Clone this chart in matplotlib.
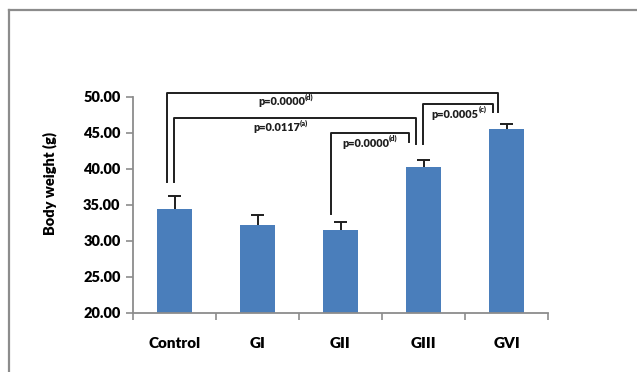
import numpy as np
import matplotlib
matplotlib.use("Agg")
import matplotlib.pyplot as plt
from matplotlib.lines import Line2D

OUT = "out.png"
BLUE = "#4a7ebb"
GREY = "#8c8c8c"
INK = "#1e1e1e"

# peso corporal medio (g) y error estándar por grupo
groups = ["Control", "GI", "GII", "GIII", "GVI"]
weights = [34.4, 32.2, 31.5, 40.3, 45.6]
errors = [1.9, 1.4, 1.1, 1.0, 0.6]

# comparaciones: (x izq, x der, altura del tramo, pie izq, pie der)
brackets = [
    (-0.085, 3.90, 50.6, 38.2, 47.9),
    (-0.007, 2.91, 47.1, 38.2, 43.5),
    (1.89, 2.82, 45.0, 33.7, 43.7),
    (2.99, 3.84, 49.0, 43.5, 47.9),
]
p_texts = ["p=0.0000", "p=0.0117", "p=0.0000", "p=0.0005"]
p_sups = ["(d)", "(a)", "(d)", "(c)"]
p_pos = [(1.01, 49.35), (0.95, 45.7), (2.02, 43.57), (3.10, 47.6)]

plt.rcParams["font.family"] = ["Lato", "DejaVu Sans"]
plt.rcParams["font.weight"] = "bold"

fig = plt.figure(figsize=(6.37, 3.72), dpi=100)
ax = fig.add_axes([133 / 637, 1 - 313 / 372, 415 / 637, 216 / 372])

x = np.arange(len(groups))
ax.bar(x, weights, width=0.41, color=BLUE, zorder=2)
# solo la mitad superior de la barra de error
tops = np.array(weights) + np.array(errors)
ax.vlines(x, weights, tops, color=INK, lw=1.4, zorder=3)
ax.hlines(tops, x - 0.075, x + 0.075, color=INK, lw=1.4, zorder=3)

for (x0, x1, top, f0, f1) in brackets:
    ax.plot([x0, x0, x1, x1], [f0, top, top, f1], color=INK, lw=1.4,
            clip_on=False, zorder=4)

for txt, sup, (tx, ty) in zip(p_texts, p_sups, p_pos):
    t = ax.text(tx, ty, txt, fontsize=7.8, fontweight="heavy", ha="left",
                va="center", color=INK)
    ax.annotate(sup, xy=(0.99, 0.6), xycoords=t, fontsize=5.5,
                fontweight="heavy", ha="left", va="bottom", color=INK)

ax.set_ylim(20, 50)
ax.set_xlim(-0.5, len(groups) - 0.5)
yt = np.arange(20, 50.1, 5)
ax.set_yticks(yt)
ax.set_yticklabels([f"{v:.2f}" for v in yt], fontsize=10.5, fontweight="heavy")
ax.set_xticks(x)
ax.set_xticklabels(groups, fontsize=11, fontweight="heavy")
ax.set_xticks(np.arange(-0.5, len(groups)), minor=True)
ax.tick_params(axis="x", which="major", length=0, pad=17)
ax.tick_params(axis="x", which="minor", length=5, color=GREY, width=1.2)
ax.tick_params(axis="y", length=5, color=GREY, width=1.2, pad=4)

for side in ["top", "right"]:
    ax.spines[side].set_visible(False)
for side in ["left", "bottom"]:
    ax.spines[side].set_color(GREY)
    ax.spines[side].set_linewidth(1.3)

ax.set_ylabel("Body weight (g)", fontsize=10.5, fontweight="heavy")
ax.yaxis.set_label_coords(-0.183, 0.60)

# marco exterior del gráfico
fig.add_artist(Line2D([8.5 / 637, 1.0], [1 - 9.5 / 372] * 2,
                      transform=fig.transFigure, color=GREY, lw=1.6))
fig.add_artist(Line2D([8.5 / 637] * 2, [0.0, 1 - 9.5 / 372],
                      transform=fig.transFigure, color=GREY, lw=1.6))

fig.savefig(OUT, dpi=100)
